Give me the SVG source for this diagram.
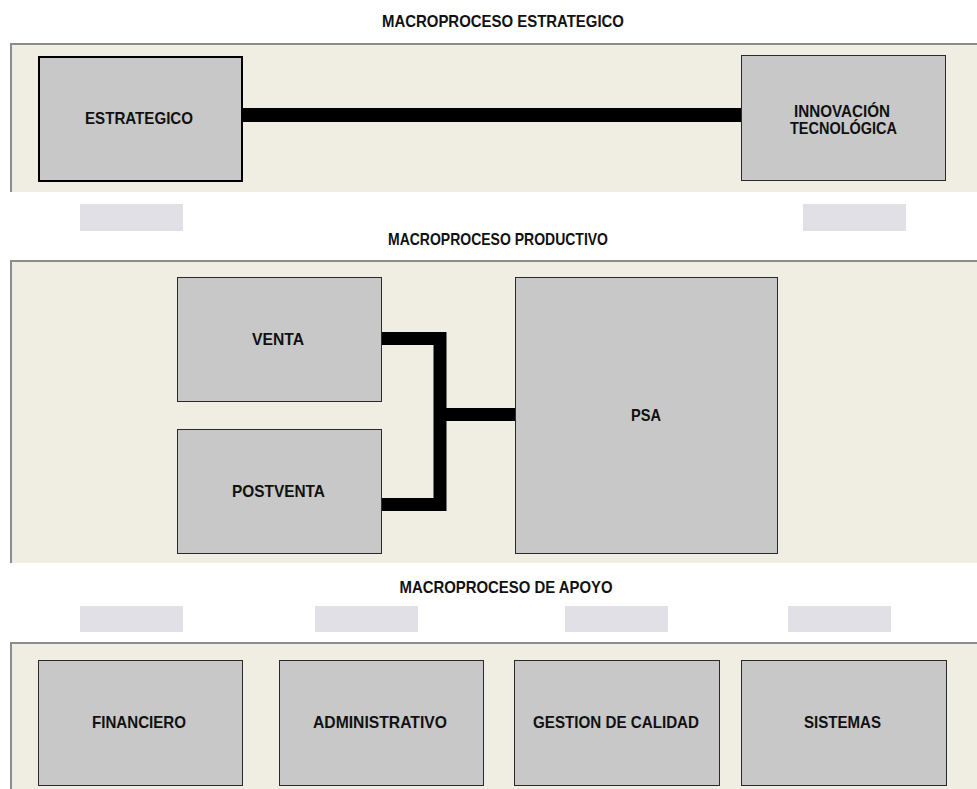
<svg xmlns="http://www.w3.org/2000/svg" width="977" height="789" viewBox="0 0 977 789">
<style>
.panel{fill:#F0EEE2}
.edge{stroke:#8C8C8C;stroke-width:2;fill:none}
.box{fill:#C8C8C8;stroke:#2A2A2A;stroke-width:1}
.boxb{fill:#C8C8C8;stroke:#000;stroke-width:2}
.ph{fill:#E0E0E6}
.t{font-family:"Liberation Sans",Arial,sans-serif;font-weight:bold;font-size:16.5px;fill:#111;text-anchor:middle}
.c{stroke:#000;fill:none;stroke-linejoin:miter}
</style>
<rect width="977" height="789" fill="#FFFFFF"/>
<g id="panel-estrategico">
<rect class="panel" x="10" y="43" width="967" height="149"/>
<path class="edge" d="M11 192 V44 H977"/>
<text class="t" x="503" y="27" textLength="242" lengthAdjust="spacingAndGlyphs">MACROPROCESO ESTRATEGICO</text>
</g>
<g id="panel-productivo">
<rect class="panel" x="10" y="260" width="967" height="303"/>
<path class="edge" d="M11 563 V261 H977"/>
<text class="t" x="498" y="245" textLength="220" lengthAdjust="spacingAndGlyphs">MACROPROCESO PRODUCTIVO</text>
</g>
<g id="panel-apoyo">
<rect class="panel" x="10" y="642" width="967" height="147"/>
<path class="edge" d="M11 789 V643 H977"/>
<text class="t" x="506" y="593" textLength="213" lengthAdjust="spacingAndGlyphs">MACROPROCESO DE APOYO</text>
</g>
<g id="placeholders">
<rect class="ph" x="80" y="204" width="103" height="27"/>
<rect class="ph" x="803" y="204" width="103" height="27"/>
<rect class="ph" x="80" y="606" width="103" height="26"/>
<rect class="ph" x="315" y="606" width="103" height="26"/>
<rect class="ph" x="565" y="606" width="103" height="26"/>
<rect class="ph" x="788" y="606" width="103" height="26"/>
</g>
<g id="connectors">
<line class="c" x1="242" y1="115" x2="741" y2="115" stroke-width="14"/>
<path class="c" d="M382 338.5 H440 V504.5 H382" stroke-width="13"/>
<line class="c" x1="440" y1="414.5" x2="515" y2="414.5" stroke-width="13"/>
</g>
<g id="estrategico">
<rect class="boxb" x="39" y="57" width="203" height="124"/>
<text class="t" x="139" y="124" textLength="108" lengthAdjust="spacingAndGlyphs">ESTRATEGICO</text>
</g>
<g id="innovacion">
<rect class="box" x="741.5" y="55.5" width="204" height="125"/>
<text class="t" x="842" y="117" textLength="96" lengthAdjust="spacingAndGlyphs">INNOVACIÓN</text>
<text class="t" x="843.5" y="134" textLength="107" lengthAdjust="spacingAndGlyphs">TECNOLÓGICA</text>
</g>
<g id="venta">
<rect class="box" x="177.5" y="277.5" width="204" height="124"/>
<text class="t" x="278" y="345" textLength="52" lengthAdjust="spacingAndGlyphs">VENTA</text>
</g>
<g id="postventa">
<rect class="box" x="177.5" y="429.5" width="204" height="124"/>
<text class="t" x="278.5" y="497" textLength="93" lengthAdjust="spacingAndGlyphs">POSTVENTA</text>
</g>
<g id="psa">
<rect class="box" x="515.5" y="277.5" width="262" height="276"/>
<text class="t" x="646" y="421" textLength="30" lengthAdjust="spacingAndGlyphs">PSA</text>
</g>
<g id="financiero">
<rect class="box" x="38.5" y="660.5" width="204" height="125"/>
<text class="t" x="139" y="728" textLength="94" lengthAdjust="spacingAndGlyphs">FINANCIERO</text>
</g>
<g id="administrativo">
<rect class="box" x="279.5" y="660.5" width="204" height="125"/>
<text class="t" x="380" y="728" textLength="134" lengthAdjust="spacingAndGlyphs">ADMINISTRATIVO</text>
</g>
<g id="gestion">
<rect class="box" x="514.5" y="660.5" width="205" height="125"/>
<text class="t" x="616" y="728" textLength="166" lengthAdjust="spacingAndGlyphs">GESTION DE CALIDAD</text>
</g>
<g id="sistemas">
<rect class="box" x="741.5" y="660.5" width="205" height="125"/>
<text class="t" x="842.5" y="728" textLength="77" lengthAdjust="spacingAndGlyphs">SISTEMAS</text>
</g>
</svg>
